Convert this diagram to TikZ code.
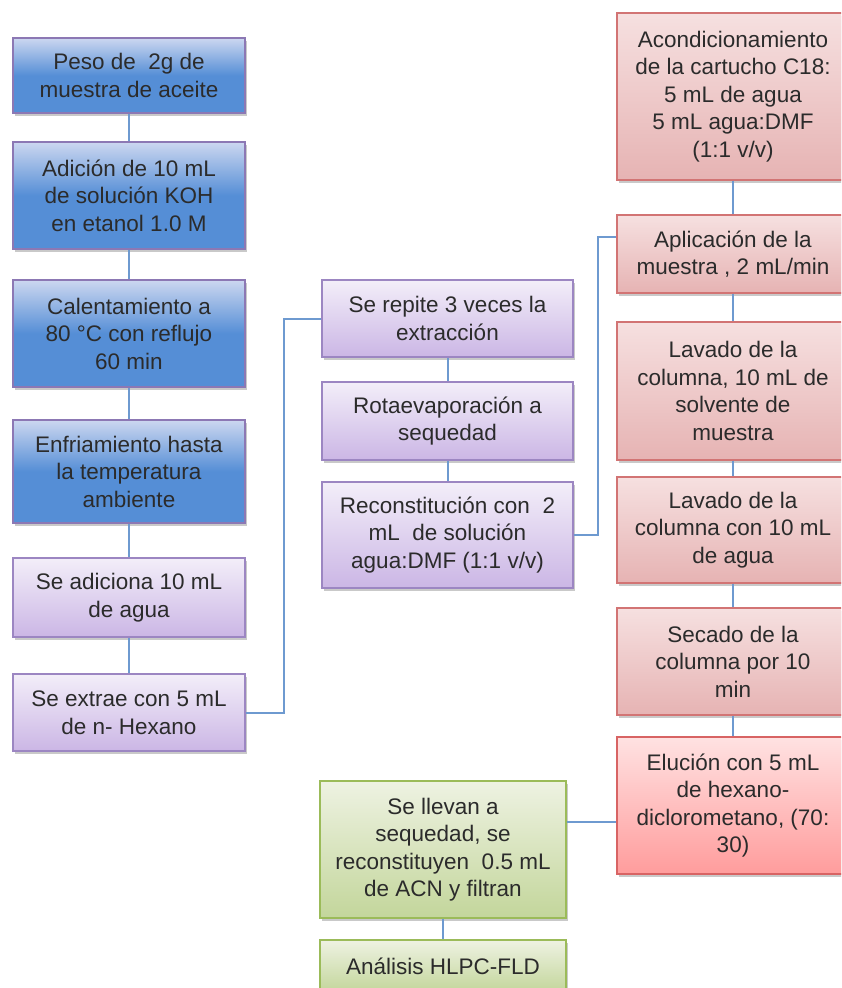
\documentclass[tikz,border=0pt]{standalone}
\usepackage{fontspec}
\setmainfont{Liberation Sans}
\usetikzlibrary{shadows}
\definecolor{txt}{HTML}{2B2B2B}
\definecolor{link}{HTML}{6E9AD0}
\definecolor{blueTop}{HTML}{CCD7F0}
\definecolor{blueBot}{HTML}{558ED6}
\definecolor{blueLine}{HTML}{8C78B4}
\definecolor{purTop}{HTML}{F3EEF9}
\definecolor{purBot}{HTML}{CBB6E5}
\definecolor{purLine}{HTML}{9C86C2}
\definecolor{redTop}{HTML}{F6E0E0}
\definecolor{redBot}{HTML}{E6B3B3}
\definecolor{redLine}{HTML}{D27474}
\definecolor{pinkTop}{HTML}{FFE2E2}
\definecolor{pinkBot}{HTML}{FF9C9C}
\definecolor{pinkLine}{HTML}{D86464}
\definecolor{grnTop}{HTML}{EEF2E2}
\definecolor{grnBot}{HTML}{C3D69B}
\definecolor{grnLine}{HTML}{9BBB59}
\tikzset{
  stepbox/.style={rectangle, align=center, text=txt, line width=1.2pt,
    font=\fontsize{22.5pt}{27.5pt}\selectfont, inner sep=0pt,
    drop shadow={shadow xshift=2pt, shadow yshift=-2.5pt, opacity=0.35, fill=black!60}},
  bluebox/.style={stepbox, draw=blueLine, top color=blueTop, bottom color=blueBot, middle color=blueBot},
  purbox/.style={stepbox, draw=purLine, top color=purTop, bottom color=purBot},
  redbox/.style={stepbox, draw=redLine, top color=redTop, bottom color=redBot},
  pinkbox/.style={stepbox, draw=pinkLine, top color=pinkTop, bottom color=pinkBot},
  grnbox/.style={stepbox, draw=grnLine, top color=grnTop, bottom color=grnBot},
  conn/.style={draw=link, line width=2pt}
}
\begin{document}
\begin{tikzpicture}[x=1pt,y=-1pt]
\useasboundingbox (0,0) rectangle (841,988);
\clip (0,0) rectangle (841,988);
\fill[white] (0,0) rectangle (841,988);
% left column
\node[bluebox, minimum width=232pt, minimum height=75pt] (b1) at (129,75.5) {Peso de \ 2g de\\muestra de aceite};
\node[bluebox, minimum width=232pt, minimum height=107pt] (b2) at (129,195.5) {Adición de 10 mL\\de solución KOH\\en etanol 1.0 M};
\node[bluebox, minimum width=232pt, minimum height=107pt] (b3) at (129,333.5) {Calentamiento a\\80 °C con reflujo\\60 min};
\node[bluebox, minimum width=232pt, minimum height=103pt] (b4) at (129,471.5) {Enfriamiento hasta\\la temperatura\\ambiente};
\node[purbox, minimum width=232pt, minimum height=79pt] (b5) at (129,597.5) {Se adiciona 10 mL\\de agua};
\node[purbox, minimum width=232pt, minimum height=77pt] (b6) at (129,712.5) {Se extrae con 5 mL\\de n- Hexano};
% middle column
\node[purbox, minimum width=251pt, minimum height=77pt] (m1) at (447.5,318.5) {Se repite 3 veces la\\extracción};
\node[purbox, minimum width=251pt, minimum height=78pt] (m2) at (447.5,421) {Rotaevaporación a\\sequedad};
\node[purbox, minimum width=251pt, minimum height=106pt] (m3) at (447.5,535) {Reconstitución con \ 2\\mL \ de solución\\agua:DMF (1:1 v/v)};
% right column
\node[redbox, minimum width=232pt, minimum height=167pt] (r1) at (733,96.5) {Acondicionamiento\\de la cartucho C18:\\5 mL de agua\\5 mL agua:DMF\\(1:1 v/v)};
\node[redbox, minimum width=232pt, minimum height=78pt] (r2) at (733,254) {Aplicación de la\\muestra , 2 mL/min};
\node[redbox, minimum width=232pt, minimum height=138pt] (r3) at (733,391) {Lavado de la\\columna, 10 mL de\\solvente de\\muestra};
\node[redbox, minimum width=232pt, minimum height=106pt] (r4) at (733,530) {Lavado de la\\columna con 10 mL\\de agua};
\node[redbox, minimum width=232pt, minimum height=107pt] (r5) at (733,661.5) {Secado de la\\columna por 10\\min};
\node[pinkbox, minimum width=232pt, minimum height=137pt] (r6) at (733,805.5) {Elución con 5 mL\\de hexano-\\diclorometano, (70:\\30)};
% green
\node[grnbox, minimum width=246pt, minimum height=137pt] (g1) at (443,849.5) {Se llevan a\\sequedad, se\\reconstituyen \ 0.5 mL\\de ACN y filtran};
\node[grnbox, minimum width=246pt, minimum height=52pt] (g2) at (443,966) {Análisis HLPC-FLD};
% connectors
\draw[conn] (b1.south) -- (b2.north);
\draw[conn] (b2.south) -- (b3.north);
\draw[conn] (b3.south) -- (b4.north);
\draw[conn] (b4.south) -- (b5.north);
\draw[conn] (b5.south) -- (b6.north);
\draw[conn] (b6.east) -- ++(38,0) |- (m1.west);
\draw[conn] (m1.south) -- (m2.north);
\draw[conn] (m2.south) -- (m3.north);
\draw[conn] (m3.east) -- ++(24,0) |- ([yshift=17pt]r2.west);
\draw[conn] (r1.south) -- (r2.north);
\draw[conn] (r2.south) -- (r3.north);
\draw[conn] (r3.south) -- (r4.north);
\draw[conn] (r4.south) -- (r5.north);
\draw[conn] (r5.south) -- (r6.north);
\draw[conn] ([yshift=27.5pt]g1.east) -- ([yshift=-16.5pt]r6.west);
\draw[conn] (g1.south) -- (g2.north);
\end{tikzpicture}
\end{document}
